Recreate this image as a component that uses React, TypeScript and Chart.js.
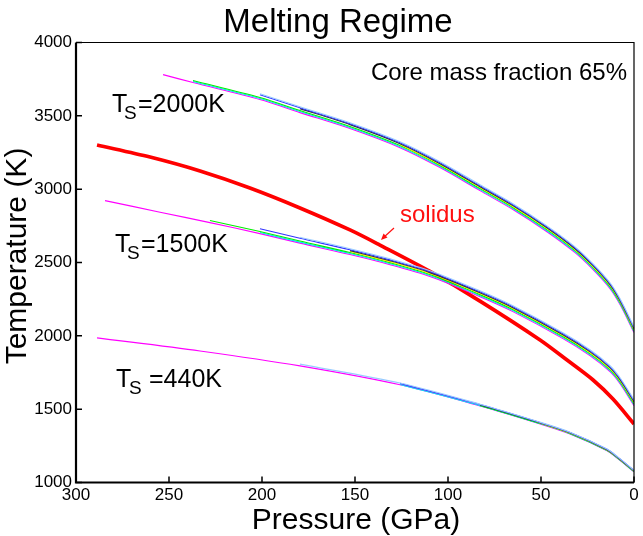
import React, { useEffect, useRef } from 'react';
import { Chart, registerables } from 'chart.js';

Chart.register(...registerables);

const FONT = "'Liberation Sans', Arial, Helvetica, sans-serif";

const X_TICKS = [0, 50, 100, 150, 200, 250, 300];
const Y_TICKS = [1000, 1500, 2000, 2500, 3000, 3500, 4000];

// Ts = 2000K bundle (centre curve)
const TOP_P = [0, 7.5, 12.9, 22, 31.7, 46.8, 65.1, 82.8, 104.3, 125.8, 152.7, 179.6, 201.1, 237.1, 253.2];
const TOP_T = [2040, 2231, 2340, 2469, 2585, 2728, 2879, 3008, 3165, 3301, 3431, 3540, 3629, 3745, 3799];

// Ts = 1500K bundle
const MID_P = [0, 7.5, 12.9, 23.7, 38.2, 65.1, 82.8, 109.7, 131.2, 152.7, 179.6, 201.1, 228, 254.8, 284.4];
const MID_T = [1542, 1692, 1774, 1883, 1999, 2183, 2285, 2422, 2503, 2572, 2650, 2715, 2790, 2861, 2940];

// Ts = 440K bundle
const BOT_P = [0, 8.6, 14.5, 34.4, 52.2, 82.8, 125.8, 179.6, 233.3, 288.7];
const BOT_T = [1078, 1167, 1222, 1337, 1412, 1528, 1672, 1801, 1903, 1992];

// solidus
const SOL_P = [0, 11.3, 22, 36, 50.5, 82.8, 109.7, 136.6, 152.7, 179.6, 206.5, 233.3, 260.2, 288.7];
const SOL_T = [1399, 1569, 1699, 1835, 1972, 2237, 2439, 2619, 2722, 2872, 3008, 3124, 3219, 3301];

// individual model lines inside each bundle
const LINE_COLORS = ['#99ccff', '#3333ff', '#333333', '#ffee00', '#00ee00', '#00eeee', '#ff00ff'];
const TOP_OFFSETS = [22, 15, 9, 3, -4, -11, -18];
const TOP_STARTS = [201.1, 201.1, 179.6, 125.8, 237.1, 237.1, 253.2];
const MID_OFFSETS = [22, 15, 9, 3, -4, -11, -18];
const MID_STARTS = [179.6, 201.1, 152.7, 152.7, 228, 201.1, 284.4];
const BOT_OFFSETS = [6, 4, 2, 0, -2, -4, -6];
const BOT_STARTS = [179.6, 125.8, 82.8, 52.2, 82.8, 125.8, 288.7];

const buildLine = (ps: number[], ts: number[], offset: number, start: number) =>
  ps.map((p, i) => ({ x: p, y: ts[i] + offset })).filter((pt) => pt.x <= start + 0.01);

const labelsPlugin = {
  id: 'labels',
  afterDraw(chart: any) {
    const ctx = chart.ctx;
    const { left, right, top, bottom } = chart.chartArea;
    const xs = chart.scales.x;
    const ys = chart.scales.y;
    ctx.save();
    // frame
    ctx.strokeStyle = '#000';
    ctx.lineWidth = 1.2;
    ctx.beginPath();
    ctx.moveTo(left, top);
    ctx.lineTo(right, top);
    ctx.lineTo(right, bottom);
    ctx.stroke();
    ctx.lineWidth = 2.2;
    ctx.beginPath();
    ctx.moveTo(left, top);
    ctx.lineTo(left, bottom);
    ctx.lineTo(right, bottom);
    ctx.stroke();
    // inward ticks
    ctx.lineWidth = 1.5;
    ctx.beginPath();
    Y_TICKS.forEach((v) => {
      const y = ys.getPixelForValue(v);
      ctx.moveTo(left, y);
      ctx.lineTo(left + 6, y);
    });
    X_TICKS.forEach((v) => {
      const x = xs.getPixelForValue(v);
      ctx.moveTo(x, bottom);
      ctx.lineTo(x, bottom - 6);
    });
    ctx.stroke();

    ctx.fillStyle = '#000';
    ctx.textBaseline = 'alphabetic';
    // title
    ctx.font = `33px ${FONT}`;
    ctx.textAlign = 'center';
    ctx.fillText('Melting Regime', 338, 32);
    // axis titles
    ctx.font = `30px ${FONT}`;
    ctx.fillText('Pressure (GPa)', 356, 529);
    ctx.save();
    ctx.translate(26, 256);
    ctx.rotate(-Math.PI / 2);
    ctx.fillText('Temperature (K)', 0, 0);
    ctx.restore();
    // core mass fraction
    ctx.font = `24px ${FONT}`;
    ctx.textAlign = 'right';
    ctx.fillText('Core mass fraction 65%', 627, 80);

    // Ts labels
    const ts = (x: number, y: number, sx: number, ex: number, rest: string) => {
      ctx.textAlign = 'left';
      ctx.font = `25px ${FONT}`;
      ctx.fillText('T', x, y);
      ctx.font = `19px ${FONT}`;
      ctx.fillText('S', sx, y + 7);
      ctx.font = `25px ${FONT}`;
      ctx.fillText(rest, ex, y);
    };
    ts(112, 112, 124, 138, '=2000K');
    ts(115, 252, 127, 141, '=1500K');
    ts(116, 387, 129, 149, '=440K');

    // solidus annotation
    ctx.fillStyle = '#ff1010';
    ctx.strokeStyle = '#ff1010';
    ctx.font = `24px ${FONT}`;
    ctx.textAlign = 'left';
    ctx.fillText('solidus', 400, 222);
    ctx.lineWidth = 1.2;
    ctx.beginPath();
    ctx.moveTo(394, 228);
    ctx.lineTo(383, 238);
    ctx.stroke();
    ctx.beginPath();
    ctx.moveTo(381, 240);
    ctx.lineTo(383.5, 233.5);
    ctx.lineTo(387.5, 237.5);
    ctx.closePath();
    ctx.fill();
    ctx.restore();
  },
};

export default function App() {
  const ref = useRef<HTMLCanvasElement | null>(null);

  useEffect(() => {
    if (!ref.current) return;
    const datasets: any[] = [];
    const addBundle = (ps: number[], tsArr: number[], offs: number[], starts: number[]) => {
      LINE_COLORS.forEach((c, i) => {
        datasets.push({
          data: buildLine(ps, tsArr, offs[i], starts[i]),
          borderColor: c,
          borderWidth: 1.1,
          pointRadius: 0,
          fill: false,
          tension: 0.3,
        });
      });
    };
    addBundle(TOP_P, TOP_T, TOP_OFFSETS, TOP_STARTS);
    addBundle(MID_P, MID_T, MID_OFFSETS, MID_STARTS);
    addBundle(BOT_P, BOT_T, BOT_OFFSETS, BOT_STARTS);
    datasets.push({
      data: SOL_P.map((p, i) => ({ x: p, y: SOL_T[i] })),
      borderColor: '#ff0000',
      borderWidth: 3.7,
      pointRadius: 0,
      fill: false,
      tension: 0.3,
    });

    const chart = new Chart(ref.current, {
      type: 'line',
      data: { datasets },
      options: {
        animation: false,
        responsive: false,
        maintainAspectRatio: false,
        layout: { padding: { top: 42.5, right: 9, left: 0, bottom: 0 } },
        plugins: { legend: { display: false }, tooltip: { enabled: false }, title: { display: false } },
        scales: {
          x: {
            type: 'linear',
            min: 0,
            max: 300,
            reverse: true,
            grid: { display: false, drawTicks: false },
            border: { display: false },
            afterFit: (s: any) => {
              s.height = 53.5;
            },
            afterBuildTicks: (s: any) => {
              s.ticks = X_TICKS.map((v) => ({ value: v }));
            },
            ticks: {
              color: '#000',
              font: { family: FONT, size: 17 },
              padding: 3,
              maxRotation: 0,
              autoSkip: false,
              callback: (v: any) => String(v),
            },
          },
          y: {
            type: 'linear',
            min: 1000,
            max: 4000,
            grid: { display: false, drawTicks: false },
            border: { display: false },
            afterFit: (s: any) => {
              s.width = 76;
            },
            afterBuildTicks: (s: any) => {
              s.ticks = Y_TICKS.map((v) => ({ value: v }));
            },
            ticks: {
              color: '#000',
              font: { family: FONT, size: 17 },
              padding: 4,
              autoSkip: false,
              callback: (v: any) => String(v),
            },
          },
        },
      },
      plugins: [labelsPlugin],
    });
    return () => chart.destroy();
  }, []);

  return (
    <div style={{ position: 'absolute', left: 0, top: 0, width: 643, height: 536, background: '#fff' }}>
      <canvas ref={ref} width={643} height={536} style={{ width: 643, height: 536 }} />
    </div>
  );
}
